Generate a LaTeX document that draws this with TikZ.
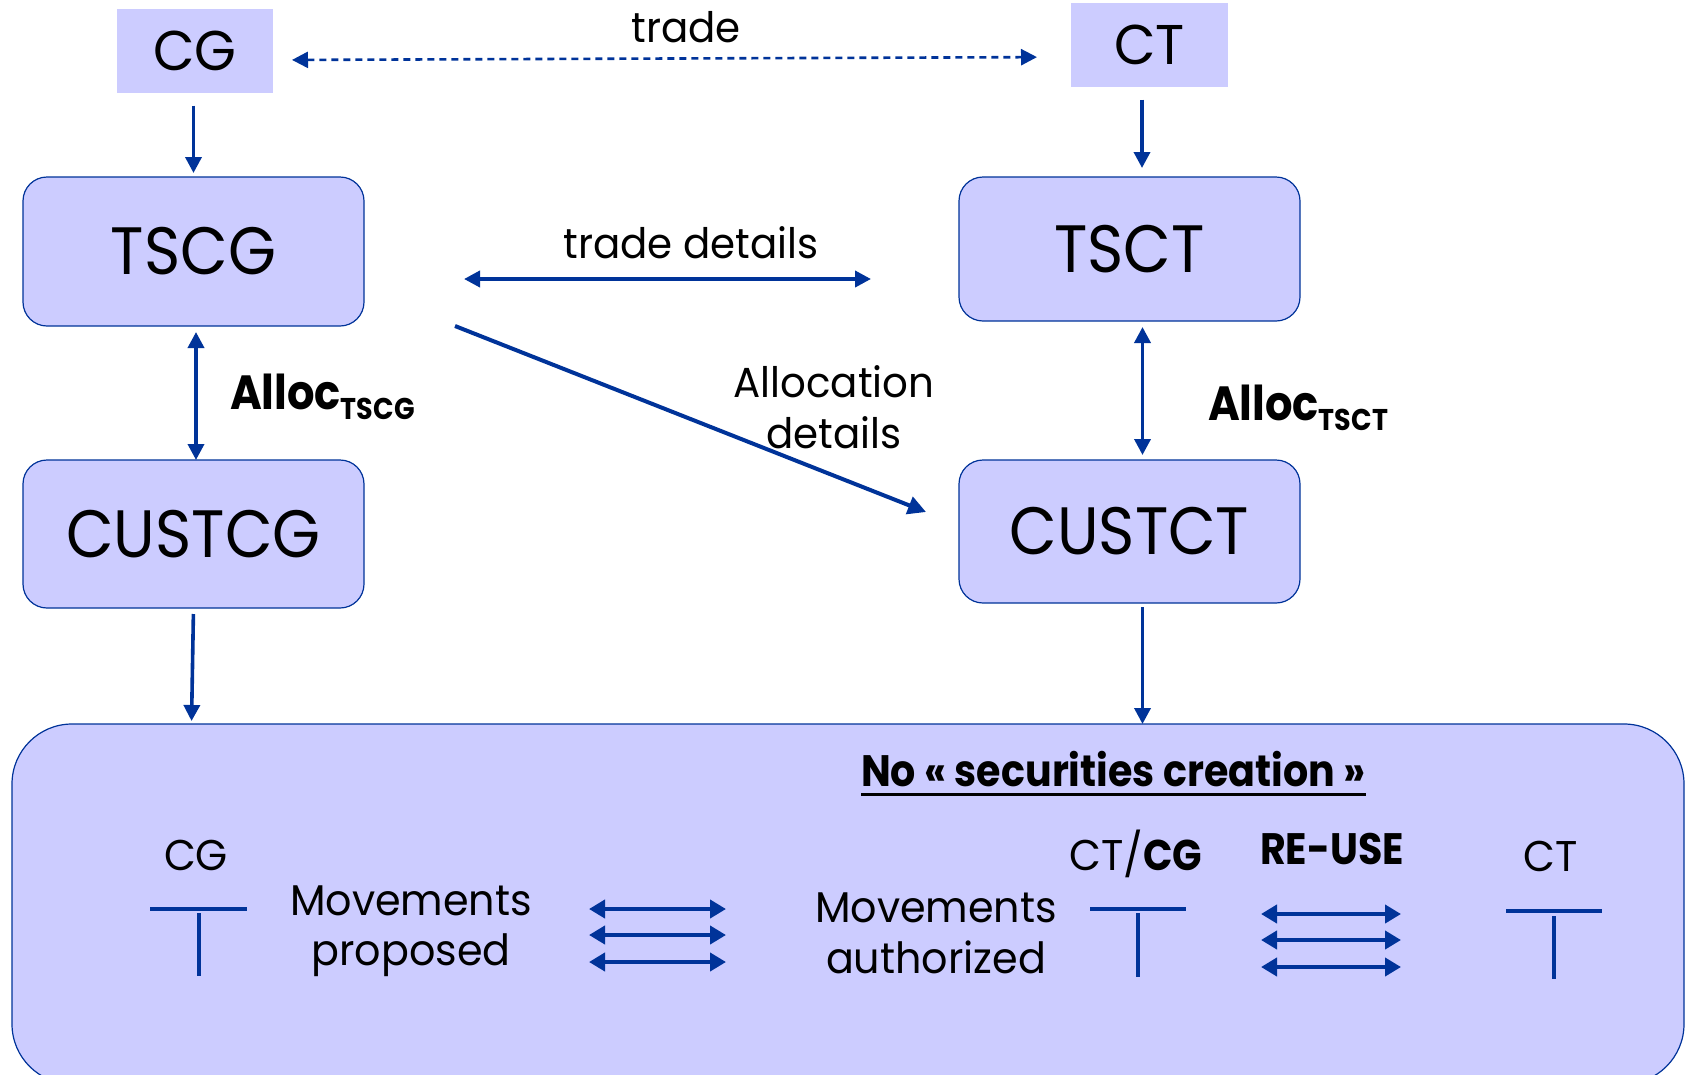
\documentclass[tikz,border=0pt]{standalone}
\usepackage{fontspec}
\setmainfont{Poppins}[FakeStretch=0.96, BoldFeatures={FakeStretch=0.9}]
\newfontfamily\boxfont{Poppins}[FakeStretch=0.92]
\usetikzlibrary{arrows.meta}
\definecolor{boxfill}{HTML}{CCCCFF}
\definecolor{linkblue}{HTML}{003399}

\newcommand{\fs}[1]{\fontsize{#1}{#1}\selectfont}

\begin{document}
\begin{tikzpicture}[x=1pt,y=-1pt,
  every node/.style={inner sep=0pt, outer sep=0pt, text=black},
  entity/.style={fill=boxfill, minimum width=156pt, minimum height=84pt, font=\fs{56}},
  party/.style={draw=linkblue, line width=1.2pt, fill=boxfill, rounded corners=24pt,
    minimum width=341pt, font=\boxfont\fs{67}},
  link/.style={draw=linkblue, line width=3.6pt, -{Triangle[length=16pt,width=16pt]}},
  dlink/.style={draw=linkblue, line width=3.6pt, {Triangle[length=16pt,width=16pt]}-{Triangle[length=16pt,width=16pt]}},
  swap/.style={draw=linkblue, line width=4.4pt, {Triangle[length=16pt,width=18pt]}-{Triangle[length=16pt,width=18pt]}},
  label/.style={font=\fs{42}, anchor=base},
  pair/.style={font=\fs{43}, align=center},
  bar/.style={draw=linkblue, line width=4pt},
  stem/.style={draw=linkblue, line width=3.2pt}
]
\useasboundingbox (0,0) rectangle (1694,1074);

% settlement pool (runs off the lower edge)
\node[draw=linkblue, line width=1.2pt, fill=boxfill, rounded corners=60pt,
  minimum width=1672pt, minimum height=360pt] (pool) at (848,904) {};

% counterparties
\node[entity] (cg) at (195,50.5) {CG};
\node[entity, minimum width=157pt] (ct) at (1149.5,45) {CT};

% trading and custody systems
\node[party, minimum height=149pt] (tscg) at (193.5,251.5) {TSCG};
\node[party, minimum height=144pt] (tsct) at (1129.5,249) {TSCT};
\node[party, minimum height=148pt] (custcg) at (193.5,534) {CUSTCG};
\node[party, minimum height=143pt] (custct) at (1129.5,531.5) {CUSTCT};

% trade between counterparties
\draw[dlink, line width=2.6pt, dash pattern=on 7pt off 5pt,
  shorten <=19pt, shorten >=34pt]
  ([yshift=-9.5pt]cg.east) -- ([yshift=-12pt]ct.west);
\node[label] (tradelbl) at (686,42) {trade};

% counterparty to trading system
\draw[link, shorten <=13pt, shorten >=4pt] (tscg.north |- cg.south) -- (tscg.north);
\draw[link, shorten <=12.5pt, shorten >=9pt] ([xshift=-7.5pt]ct.south) -- ([xshift=-7.5pt]ct.south |- tsct.north);

% trade details between trading systems
\draw[dlink, line width=3.8pt, shorten <=100pt, shorten >=88pt]
  ([yshift=-27.5pt]tscg.east) -- ([yshift=-27.5pt]tscg.east -| tsct.west);
\node[label] (tdlbl) at (691,258) {trade details};

% allocations
\draw[dlink, shorten <=6pt] ([xshift=2.5pt]tscg.south) -- ([xshift=2.5pt]custcg.north);
\draw[dlink, shorten <=6pt, shorten >=5pt] ([xshift=13pt]tsct.south) -- ([xshift=13pt]custct.north);
\node[anchor=base west, font=\fs{48}\bfseries] (alloccg) at (230,409)
  {Alloc\raisebox{-10pt}{\fs{30}TSCG}};
\node[anchor=base west, font=\fs{48}\bfseries] (allocct) at (1208,420)
  {Alloc\raisebox{-10pt}{\fs{30}TSCT}};

% allocation details to the counterparty custodian
\draw[draw=linkblue, line width=4pt, -{Triangle[length=18pt,width=18pt]}]
  ([xshift=91pt]tscg.south east) -- ([xshift=-33pt,yshift=19.5pt]custct.west);
\node[pair, font=\fs{42}, anchor=base] (adlbl) at (834,448) {Allocation\\[9pt]details};

% custodians into the pool
\draw[link, shorten <=6pt, shorten >=3pt] (custcg.south) -- ([xshift=-2pt]custcg.south |- pool.north);
\draw[link, shorten <=4pt] ([xshift=13pt]custct.south) -- ([xshift=13pt]custct.south |- pool.north);

% pool contents
\node[anchor=base west, font=\fs{44}\bfseries] (title) at (861,786) {No « securities creation »};
\draw[line width=3pt] ([yshift=-8pt]title.base west) -- ([yshift=-8pt]title.base east);

\node[font=\fs{43}, anchor=base] (cgacc) at (196,870) {CG};
\draw[bar] (150,909) -- (247,909);
\draw[stem] (199,913) -- (199,976);
\node[pair, anchor=base] (proposed) at (411,965) {Movements\\[7pt]proposed};

\draw[swap] (589,909) -- (726,909);
\draw[swap] (589,935) -- (726,935);
\draw[swap] (589,962) -- (726,962);

\node[pair, anchor=base] (authorized) at (936,973) {Movements\\[8pt]authorized};
\node[font=\fs{43}, anchor=base] (ctcg) at (1136,870) {CT/\textbf{CG}};
\draw[bar] (1090,909) -- (1186,909);
\draw[stem] (1138,913) -- (1138,977);

\node[font=\fs{44}\bfseries, anchor=base] (reuse) at (1332,864) {RE-USE};
\draw[swap] (1261,914) -- (1401,914);
\draw[swap] (1261,940) -- (1401,940);
\draw[swap] (1261,967) -- (1401,967);

\node[font=\fs{43}, anchor=base] (ctacc) at (1551,871) {CT};
\draw[bar] (1506,911) -- (1602,911);
\draw[stem] (1554,916) -- (1554,979);
\end{tikzpicture}
\end{document}
